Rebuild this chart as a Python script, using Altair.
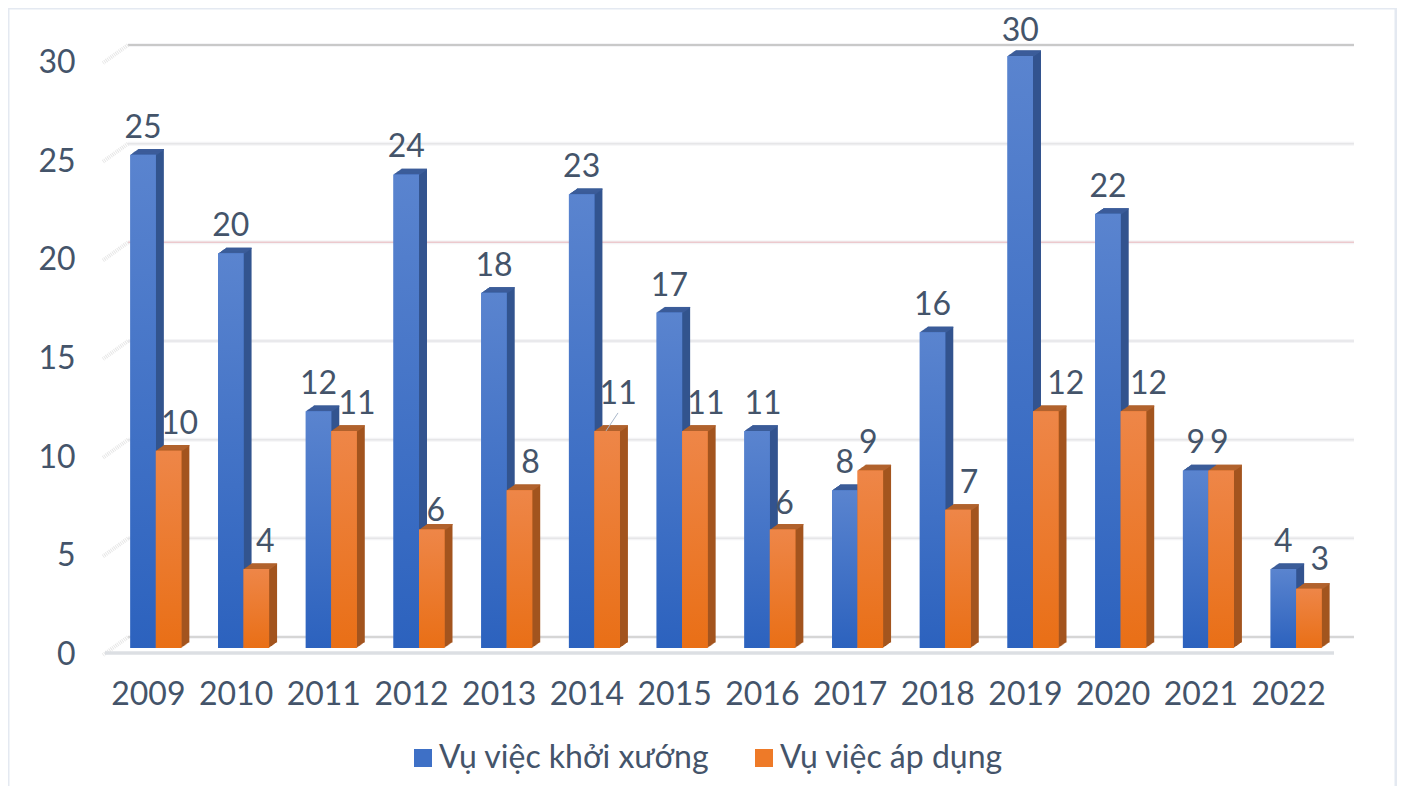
import altair as alt
import pandas as pd

YEARS = [str(y) for y in range(2009, 2023)]
SERIES = ["Vụ việc khởi xướng", "Vụ việc áp dụng"]
INITIATED = [25, 20, 12, 24, 18, 23, 17, 11, 8, 16, 30, 22, 9, 4]
APPLIED = [10, 4, 11, 6, 8, 11, 11, 6, 9, 7, 12, 12, 9, 3]
Y_TICKS = [0, 5, 10, 15, 20, 25, 30]

FONT = "Lato"
TXT = "#44546a"
FS = 32
DEPTH_STEPS = 8
DY_PER_STEP = 0.7
BAR_W = 25.5
SHIFT = {"Vụ việc khởi xướng": -BAR_W / 2, "Vụ việc áp dụng": BAR_W / 2}

STYLE = {
    SERIES[0]: dict(solid="#3e70c6", top="#5a84cf", bot="#2c62be", side="#33548f", cap="#3c5d9a"),
    SERIES[1]: dict(solid="#ee7a28", top="#ee8648", bot="#e96f16", side="#a3551f", cap="#b2632e"),
}

# label placement relative to the bar: (dx, dy) -> years
NUDGE = {
    SERIES[0]: {
        (0, -27): [y for y in YEARS if y not in ("2016", "2019")],
        (6, -27): ["2016"],
        (0, -25): ["2019"],
    },
    SERIES[1]: {
        (11, -27): ["2009", "2013", "2015", "2018"],
        (9, -27): ["2010"],
        (13, -27): ["2011"],
        (4, -19): ["2012"],
        (11, -37): ["2014"],
        (2, -26): ["2016"],
        (-2, -27): ["2017", "2021"],
        (20, -27): ["2019"],
        (15, -27): ["2020"],
        (11, -29): ["2022"],
    },
}

df = pd.DataFrame(
    [{"year": y, "series": SERIES[0], "value": v} for y, v in zip(YEARS, INITIATED)]
    + [{"year": y, "series": SERIES[1], "value": v} for y, v in zip(YEARS, APPLIED)]
)
ticks = pd.DataFrame({"value": Y_TICKS})

y_scale = alt.Scale(domain=[0, 30], nice=False)
x_enc = alt.X(
    "year:N",
    sort=YEARS,
    title=None,
    scale=alt.Scale(paddingInner=0.4185, paddingOuter=0.2093, round=False),
    axis=alt.Axis(
        labelAngle=0, labelFont=FONT, labelFontSize=FS, labelColor=TXT, labelOffset=-7.5,
        labelPadding=31, ticks=False, domain=False, grid=False,
    ),
)
y_enc = alt.Y(
    "value:Q",
    scale=y_scale,
    title=None,
    axis=alt.Axis(
        values=Y_TICKS, labelFont=FONT, labelFontSize=FS, labelColor=TXT, labelPadding=37,
        labelOffset=6.5, ticks=False, domain=False, grid=False,
    ),
)

layers = []

# outer frame
layers.append(
    alt.Chart(pd.DataFrame({"a": [0]})).mark_rect(fill="transparent", stroke="#e4e9f1", strokeWidth=3).encode(
        x=alt.value(-104), x2=alt.value(1284), y=alt.value(-48), y2=alt.value(770)
    )
)

# back wall gridlines (soft halo + line)
def grid(tbl, color, width):
    return alt.Chart(tbl).mark_rule(color=color, strokeWidth=width, yOffset=-11).encode(
        x=alt.value(16), x2=alt.value(1242), y=y_enc
    )

layers.append(grid(ticks, "#f4f4f6", 4))
layers.append(grid(ticks[~ticks.value.isin([20, 30, 0])], "#e6e6e8", 1.5))
layers.append(grid(ticks[ticks.value == 30], "#c9c9c9", 2))
layers.append(grid(ticks[ticks.value == 0], "#d6d6d6", 2))
layers.append(grid(ticks[ticks.value == 20], "#ecc9cd", 1.5))

# short hatched ticks on the side wall
layers.append(
    alt.Chart(ticks).mark_rule(color="#e6e6e6", strokeWidth=4, strokeDash=[1, 1], yOffset=-11, y2Offset=7).encode(
        x=alt.value(16), x2=alt.value(-9), y=y_enc, y2="value:Q",
    )
)

# floor
floor = ticks[ticks.value == 0]
layers.append(
    alt.Chart(floor).mark_rule(color="#dcdfe3", strokeWidth=3.5, yOffset=5).encode(
        x=alt.value(-7), x2=alt.value(1222), y=y_enc
    )
)

# bars
for s in SERIES:
    st = STYLE[s]
    sub = df[df.series == s]
    sh = SHIFT[s]
    for k in range(DEPTH_STEPS, 0, -1):
        layers.append(
            alt.Chart(sub).mark_bar(
                color=st["side"], width=BAR_W, xOffset=sh + k,
                yOffset=-k * DY_PER_STEP, y2Offset=-k * DY_PER_STEP,
            ).encode(x=x_enc, y=y_enc)
        )
    for k in range(DEPTH_STEPS, 0, -1):
        layers.append(
            alt.Chart(sub).mark_bar(
                color=st["cap"], width=BAR_W, xOffset=sh + k,
                yOffset=-k * DY_PER_STEP, y2Offset=-k * DY_PER_STEP + 1.2,
            ).encode(x=x_enc, y=y_enc, y2="value:Q")
        )
    layers.append(
        alt.Chart(sub).mark_bar(width=BAR_W, xOffset=sh).encode(
            x=x_enc, y=y_enc,
            color=alt.Color(
                "series:N", sort=SERIES, title=None,
                scale=alt.Scale(domain=SERIES, range=[STYLE[n]["solid"] for n in SERIES]),
                legend=alt.Legend(
                    orient="none", legendX=295, legendY=686, direction="horizontal", columns=2,
                    symbolType="square", symbolSize=324, symbolStrokeWidth=0, labelFont=FONT,
                    labelFontSize=FS, labelColor=TXT, labelLimit=400, columnPadding=38, labelOffset=0,
                ),
            ),
        )
    )
    layers.append(
        alt.Chart(sub).mark_bar(
            width=BAR_W, xOffset=sh,
            color=alt.Gradient(
                gradient="linear", x1=0, y1=0, x2=0, y2=1,
                stops=[alt.GradientStop(color=st["top"], offset=0), alt.GradientStop(color=st["bot"], offset=1)],
            ),
        ).encode(x=x_enc, y=y_enc)
    )

# leader line for the 2014 label
layers.append(
    alt.Chart(df[(df.year == "2014") & (df.series == SERIES[1])]).mark_rule(
        color="#a9b7ca", strokeWidth=1, y2Offset=-18
    ).encode(x=alt.value(494), x2=alt.value(506), y=y_enc, y2="value:Q")
)

# data labels
for s in SERIES:
    for (dx, dy), yrs in NUDGE[s].items():
        sub = df[(df.series == s) & (df.year.isin(yrs))]
        layers.append(
            alt.Chart(sub).mark_text(
                font=FONT, fontSize=FS, color=TXT, dx=dx + SHIFT[s], dy=dy, baseline="middle", align="center"
            ).encode(x=x_enc, y=y_enc, text="value:Q")
        )

chart = (
    alt.layer(*layers)
    .properties(
        width=1228, height=592,
        padding={"left": 104, "top": 48, "right": 57, "bottom": 138},
        autosize=alt.AutoSizeParams(type="none"),
        background="white",
    )
    .configure_view(stroke=None)
)
chart.save("out.html", embed_options={"renderer": "svg", "actions": False})
